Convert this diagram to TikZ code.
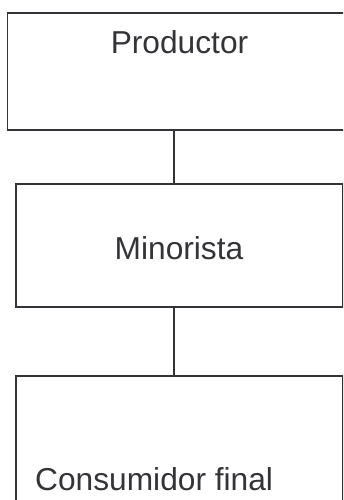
\documentclass[tikz,border=0pt]{standalone}
\usepackage{fontspec}
\setmainfont{Liberation Sans}
\definecolor{ink}{RGB}{52,52,56}
\begin{document}
\begin{tikzpicture}[x=1pt,y=-1pt,
  box/.style={draw=ink,line width=1.6pt,inner sep=0pt},
  lbl/.style={text=ink,font=\fontsize{31.7}{36}\selectfont,inner sep=0pt,anchor=base},
  conn/.style={draw=ink,line width=1.6pt}]
\useasboundingbox (0,0) rectangle (343,500);
\clip (0,0) rectangle (343,500);
\node[box,minimum width=354pt,minimum height=116.5pt,anchor=north west] (b1) at (6.5,12.5) {};
\node[box,minimum width=327pt,minimum height=123pt,anchor=north west] (b2) at (15,183) {};
\node[box,minimum width=327pt,minimum height=150pt,anchor=north west] (b3) at (15,375) {};
\node[lbl] (t1) at (179.5,53.5) {Productor};
\node[lbl] (t2) at (179,259) {Minorista};
\node[lbl,anchor=base west] (t3) at (35,490) {Consumidor final};
\coordinate (cx) at (174,0);
\draw[conn] (b1.south -| cx) -- (b2.north -| cx);
\draw[conn] (b2.south -| cx) -- (b3.north -| cx);
\end{tikzpicture}
\end{document}
